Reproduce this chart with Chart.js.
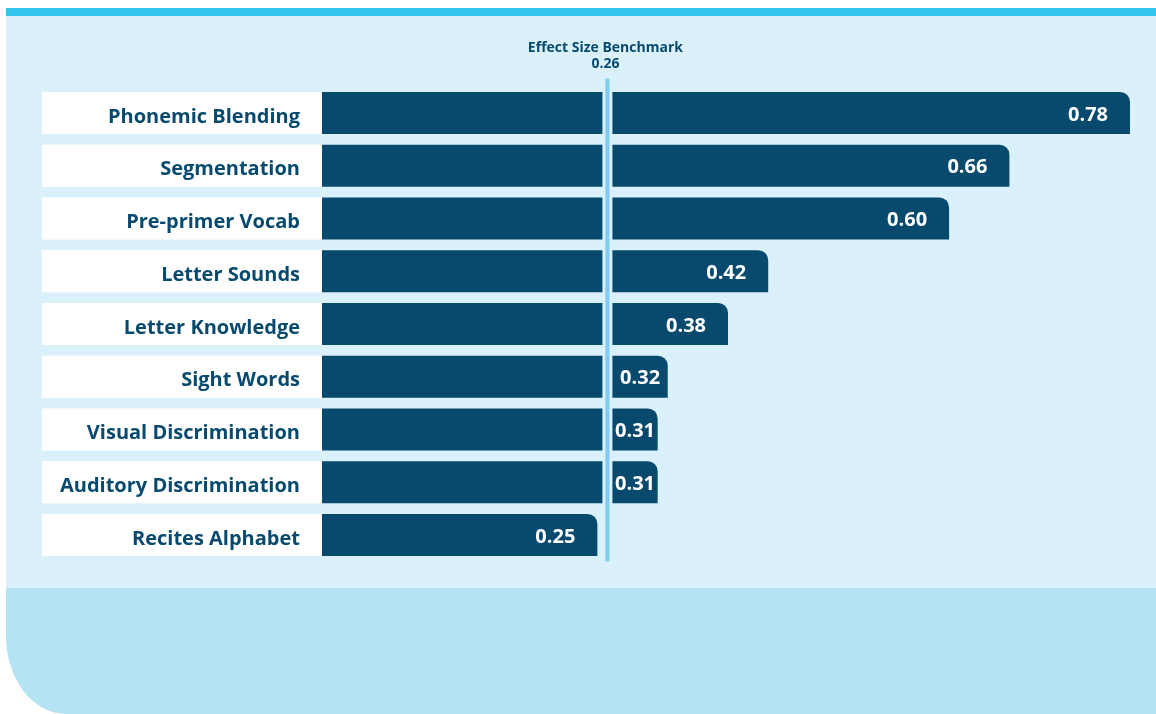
<!DOCTYPE html>
<html>
<head>
<meta charset="utf-8">
<title>Effect sizes by skill</title>
<script src="https://cdn.jsdelivr.net/npm/chart.js@4.4.1/dist/chart.umd.min.js"></script>
<style>
  html, body { margin: 0; padding: 0; background: #ffffff; }
  #page { position: relative; width: 1156px; height: 714px; overflow: hidden; }
  .stripe { position: absolute; left: 6px; top: 8px; width: 1150px; height: 8px; background: #33c4ed; }
  .panel { position: absolute; left: 6px; top: 16px; width: 1150px; height: 572px; background: #daf0fb; }
  .footer { position: absolute; left: 6px; top: 588px; width: 1150px; height: 126px; background: #b4e3f3;
            border-bottom-left-radius: 60px 78px; }
  #chart { position: absolute; left: 0; top: 0; }
</style>
</head>
<body>
<div id="page">
  <div class="stripe"></div>
  <div class="panel"></div>
  <div class="footer"></div>
  <canvas id="chart" width="1156" height="714"></canvas>
</div>
<script>
const skills = [
  "Phonemic Blending",
  "Segmentation",
  "Pre-primer Vocab",
  "Letter Sounds",
  "Letter Knowledge",
  "Sight Words",
  "Visual Discrimination",
  "Auditory Discrimination",
  "Recites Alphabet"
];
const effectSizes = [0.78, 0.66, 0.60, 0.42, 0.38, 0.32, 0.31, 0.31, 0.25];
const benchmark = 0.26;
const benchmarkTitle = "Effect Size Benchmark";

// axis runs a touch below zero so the bars butt against the label boxes
const axisMin = -0.024;
const axisMax = 0.78;

const NAVY = "#074a6e";
const PANEL = "#daf0fb";
const LINE = "#7fcbf1";
const FONT = "'Open Sans', sans-serif";

// white boxes behind the skill names, lined up with each bar
const labelBoxes = {
  id: "labelBoxes",
  beforeDraw(chart) {
    const ctx = chart.ctx;
    const meta = chart.getDatasetMeta(0);
    ctx.save();
    ctx.fillStyle = "#ffffff";
    meta.data.forEach(bar => {
      const h = bar.height;
      ctx.fillRect(42, bar.y - h / 2, chart.chartArea.left - 42, h);
    });
    ctx.restore();
  }
};

// benchmark line with a gap cut through the bars, plus value labels
const extras = {
  id: "extras",
  afterDatasetsDraw(chart) {
    const ctx = chart.ctx;
    const xs = chart.scales.x;
    const area = chart.chartArea;
    const meta = chart.getDatasetMeta(0);
    const bx = xs.getPixelForValue(benchmark);
    const gapHalf = 5;

    ctx.save();
    ctx.fillStyle = PANEL;
    ctx.fillRect(bx - gapHalf, area.top, gapHalf * 2, area.bottom - area.top);
    ctx.fillStyle = LINE;
    ctx.fillRect(bx - 2, area.top - 8, 4, area.bottom - area.top + 8);

    ctx.fillStyle = NAVY;
    ctx.textAlign = "center";
    ctx.textBaseline = "middle";
    ctx.font = "bold 14px " + FONT;
    ctx.fillText(benchmarkTitle, bx - 2, 48);
    ctx.fillText(benchmark.toFixed(2), bx - 2, 64);

    ctx.fillStyle = "#ffffff";
    ctx.font = "bold 20px " + FONT;
    meta.data.forEach((bar, i) => {
      const txt = effectSizes[i].toFixed(2);
      const w = ctx.measureText(txt).width;
      let right = bar.x - 22;
      // short bars past the benchmark: keep the number clear of the gap
      if (bar.x > bx && right - w < bx + gapHalf + 6) {
        const mid = (bx + gapHalf + bar.x) / 2;
        right = mid + w / 2;
      }
      ctx.textAlign = "right";
      ctx.fillText(txt, right, bar.y + 2);
    });
    ctx.restore();
  }
};

new Chart(document.getElementById("chart"), {
  type: "bar",
  data: {
    labels: skills,
    datasets: [{
      data: effectSizes,
      base: axisMin,
      backgroundColor: NAVY,
      borderRadius: { topRight: 10, bottomRight: 0, topLeft: 0, bottomLeft: 0 },
      borderSkipped: false,
      categoryPercentage: 1,
      barPercentage: 0.8
    }]
  },
  options: {
    indexAxis: "y",
    responsive: false,
    animation: false,
    layout: { padding: { top: 86.6, bottom: 152.6, right: 26, left: 0 } },
    scales: {
      x: {
        display: false,
        min: axisMin,
        max: axisMax
      },
      y: {
        afterFit: (scale) => { scale.width = 322; },
        grid: { display: false, drawTicks: false },
        border: { display: false },
        ticks: {
          color: NAVY,
          padding: 22,
          labelOffset: 4,
          font: { family: FONT, size: 20, weight: "bold" }
        }
      }
    },
    plugins: {
      legend: { display: false },
      tooltip: { enabled: false }
    }
  },
  plugins: [labelBoxes, extras]
});
</script>
</body>
</html>
